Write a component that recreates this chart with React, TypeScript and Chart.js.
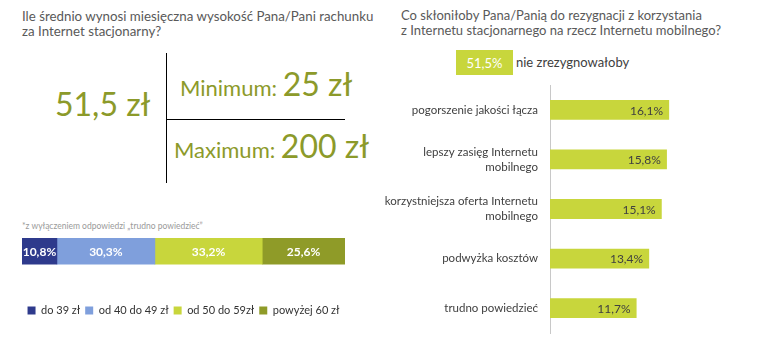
import React, { useEffect, useRef } from "react";
import { Chart, registerables } from "chart.js";

Chart.register(...registerables);

// ---------- data ----------
const costCategories = ["rachunek"];
const costSeriesLabels = ["do 39 zł", "od 40 do 49 zł", "od 50 do 59zł", "powyżej 60 zł"];
const costShares = [10.8, 30.3, 33.2, 25.6];
const costPalette = ["#2e3a8c", "#7f9fdc", "#c8d63c", "#8f9b28"];

const reasonLabels = [
  ["pogorszenie jakości łącza"],
  ["lepszy zasięg Internetu", "mobilnego"],
  ["korzystniejsza oferta Internetu", "mobilnego"],
  ["podwyżka kosztów"],
  ["trudno powiedzieć"],
];
const reasonValues = [16.1, 15.8, 15.1, 13.4, 11.7];

const avgBill = "51,5 zł";
const minBill = "25 zł";
const maxBill = "200 zł";
const notResigning = "51,5%";

const FONT = "Lato, 'Open Sans', sans-serif";
const fmt = (v: number) => v.toFixed(1).replace(".", ",") + "%";

const stackLabels = {
  id: "stackLabels",
  afterDatasetsDraw(chart: any) {
    const ctx = chart.ctx;
    ctx.save();
    ctx.font = `bold 12px ${FONT}`;
    ctx.fillStyle = "#ffffff";
    ctx.textAlign = "center";
    ctx.textBaseline = "middle";
    chart.data.datasets.forEach((ds: any, i: number) => {
      const meta = chart.getDatasetMeta(i);
      meta.data.forEach((bar: any, j: number) => {
        const x = (bar.x + bar.base) / 2;
        ctx.fillText(fmt(ds.data[j]), x, bar.y + 1);
      });
    });
    ctx.restore();
  },
};

const endLabels = {
  id: "endLabels",
  afterDatasetsDraw(chart: any) {
    const ctx = chart.ctx;
    ctx.save();
    ctx.font = `12px ${FONT}`;
    ctx.fillStyle = "#404040";
    ctx.textAlign = "right";
    ctx.textBaseline = "middle";
    const ds = chart.data.datasets[0];
    chart.getDatasetMeta(0).data.forEach((bar: any, j: number) => {
      ctx.fillText(fmt(ds.data[j]), bar.x - 6, bar.y + 1);
    });
    ctx.restore();
  },
};

function CostChart() {
  const ref = useRef<HTMLCanvasElement>(null);
  useEffect(() => {
    const chart = new Chart(ref.current!, {
      type: "bar",
      data: {
        labels: costCategories,
        datasets: costShares.map((v, i) => ({
          label: costSeriesLabels[i],
          data: [v],
          backgroundColor: costPalette[i],
          borderWidth: 0,
          barPercentage: 1,
          categoryPercentage: 1,
        })),
      },
      options: {
        indexAxis: "y",
        responsive: false,
        animation: false,
        layout: { autoPadding: false, padding: { left: 22, right: 35, top: 10, bottom: 0 } },
        scales: {
          x: {
            stacked: true,
            min: 0,
            max: 99.9,
            grid: { display: false },
            border: { display: false },
            ticks: { display: false },
            title: { display: true, text: "", font: { size: 12 }, padding: { top: 13, bottom: 0 } },
          },
          y: { stacked: true, display: false },
        },
        plugins: {
          legend: {
            position: "bottom",
            labels: {
              boxWidth: 8,
              boxHeight: 8,
              padding: 5,
              color: "#333333",
              font: { family: FONT, size: 11 },
            },
          },
          tooltip: { enabled: false },
        },
      } as any,
      plugins: [stackLabels],
    });
    return () => chart.destroy();
  }, []);
  return (
    <canvas
      ref={ref}
      width={380}
      height={98}
      style={{ position: "absolute", left: 0, top: 228, width: 380, height: 98 }}
    />
  );
}

function ReasonChart() {
  const ref = useRef<HTMLCanvasElement>(null);
  useEffect(() => {
    const chart = new Chart(ref.current!, {
      type: "bar",
      data: {
        labels: reasonLabels,
        datasets: [
          {
            label: "powody",
            data: reasonValues,
            backgroundColor: "#c8d63c",
            borderWidth: 0,
            barPercentage: 0.4,
            categoryPercentage: 1,
          },
        ],
      },
      options: {
        indexAxis: "y",
        responsive: false,
        animation: false,
        layout: { autoPadding: false, padding: { left: 0, right: 9, top: 5, bottom: 7 } },
        scales: {
          x: { min: 0, max: 30, display: false },
          y: {
            grid: { display: false, drawTicks: false },
            border: { display: true, color: "#c8c8c8", width: 1 },
            ticks: {
              color: "#404040",
              font: { family: FONT, size: 11.5, lineHeight: 1.3 },
              padding: 12,
            },
            afterFit: (s: any) => {
              s.width = 170;
              s.paddingTop = 0;
              s.paddingBottom = 0;
            },
          },
        },
        plugins: { legend: { display: false }, tooltip: { enabled: false } },
      } as any,
      plugins: [endLabels],
    });
    return () => chart.destroy();
  }, []);
  return (
    <canvas
      ref={ref}
      width={401}
      height={260}
      style={{ position: "absolute", left: 380, top: 80, width: 401, height: 260 }}
    />
  );
}

export default function App() {
  const olive = "#8c9a2a";
  const abs = (s: React.CSSProperties): React.CSSProperties => ({ position: "absolute", whiteSpace: "nowrap", ...s });
  return (
    <div
      style={{
        position: "absolute",
        left: 0,
        top: 0,
        width: 781,
        height: 345,
        background: "#ffffff",
        overflow: "hidden",
        fontFamily: FONT,
      }}
    >
      {/* left title */}
      <div style={abs({ left: 22, top: 9, fontSize: 13.3, lineHeight: "15px", color: "#595959" })}>
        Ile średnio wynosi miesięczna wysokość Pana/Pani rachunku
        <br />
        za Internet stacjonarny?
      </div>
      <div style={abs({ left: 55, top: 88, fontSize: 32, lineHeight: "32px", color: olive })}>{avgBill}</div>
      <div style={abs({ left: 166, top: 53, width: 1, height: 130, background: "#000" })} />
      <div style={abs({ left: 166, top: 119, width: 179, height: 1, background: "#000" })} />
      <div style={abs({ left: 180, top: 68, lineHeight: "32px", color: olive })}>
        <span style={{ fontSize: 22 }}>Minimum: </span>
        <span style={{ fontSize: 32 }}>{minBill}</span>
      </div>
      <div style={abs({ left: 174, top: 130, lineHeight: "32px", color: olive })}>
        <span style={{ fontSize: 22 }}>Maximum: </span>
        <span style={{ fontSize: 32 }}>{maxBill}</span>
      </div>
      <div style={abs({ left: 22, top: 221, fontSize: 8.5, lineHeight: "10px", color: "#9a9a9a" })}>
        *z wyłączeniem odpowiedzi „trudno powiedzieć”
      </div>
      <CostChart />

      {/* right title */}
      <div style={abs({ left: 401, top: 8, fontSize: 13, lineHeight: "15px", color: "#595959" })}>
        Co skłoniłoby Pana/Panią do rezygnacji z korzystania
        <br />
        z Internetu stacjonarnego na rzecz Internetu mobilnego?
      </div>
      <div
        style={abs({
          left: 456,
          top: 50,
          width: 57,
          height: 25,
          background: "#c8d63c",
          color: "#ffffff",
          fontSize: 13,
          lineHeight: "26px",
          textAlign: "center",
        })}
      >
        {notResigning}
      </div>
      <div style={abs({ left: 516, top: 50, fontSize: 13, lineHeight: "24px", color: "#404040" })}>
        nie zrezygnowałoby
      </div>
      <ReasonChart />
    </div>
  );
}
